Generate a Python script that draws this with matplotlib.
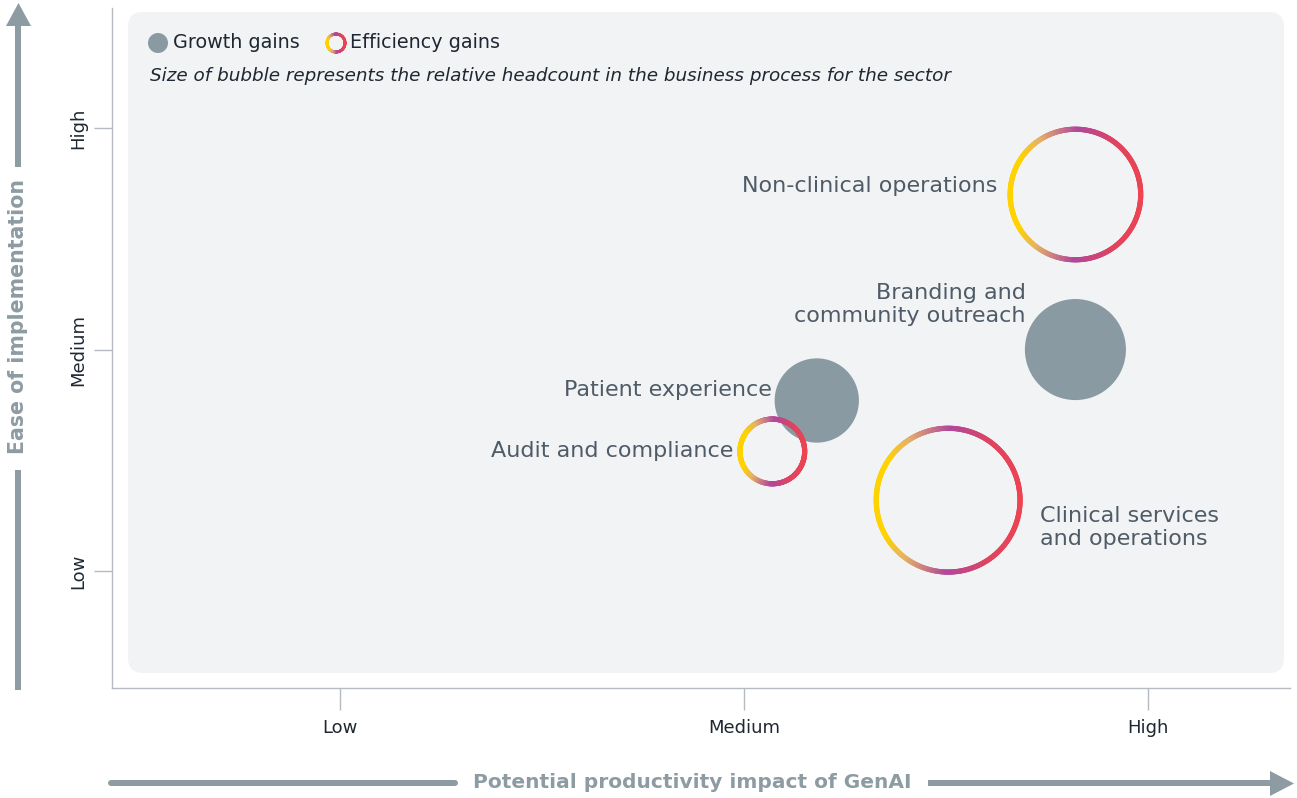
import numpy as np
import matplotlib
matplotlib.use("Agg")
import matplotlib.pyplot as plt
from matplotlib.collections import LineCollection
from matplotlib.colors import LinearSegmentedColormap
from matplotlib.patches import FancyBboxPatch, Polygon, Circle

# ---------------- data ----------------
processes = ["Non-clinical operations", "Branding and\ncommunity outreach",
             "Patient experience", "Audit and compliance",
             "Clinical services\nand operations"]
impact = [2.82, 2.82, 2.18, 2.07, 2.505]          # x: potential productivity impact
ease = [2.70, 2.00, 1.77, 1.54, 1.32]             # y: ease of implementation
headcount = [83, 46, 32, 22, 100]                 # relative headcount (bubble area)
gain_type = ["Efficiency", "Growth", "Growth", "Efficiency", "Efficiency"]
tick_values = [1, 2, 3]
tick_labels = ["Low", "Medium", "High"]

# ---------------- styles ----------------
W, H = 1297, 798
FONT = "DejaVu Sans"
plt.rcParams['font.family'] = [FONT]
GRAY_BUBBLE = "#8a9aa2"
ARROW = "#8d9ba3"
LABEL = "#4f5b66"
DARK = "#1e2732"
SPINE = "#b5bbc0"
BG = "#f2f3f5"
RADIUS_SCALE = 7.45    # px per sqrt(headcount)
RING_W = 5.2           # px
# label offsets in px (side, dy, ha, gap) relative to bubble centre
label_pos = [(-1, 9, "right", 10), (-1, 45, "right", -1), (-1, 10, "right", 3),
             (-1, 0, "right", 4), (1, -27, "left", 17)]

ring_cmap = LinearSegmentedColormap.from_list(
    "ring", [(0.0, "#ef4350"), (0.30, "#e0445e"), (0.50, "#b2479b"),
             (0.70, "#e6b466"), (0.82, "#ffd200"), (1.0, "#ffd200")])

fig = plt.figure(figsize=(W / 100, H / 100), dpi=100)
fig.patch.set_facecolor("white")

# overlay for decorations in pixel coordinates
ov = fig.add_axes([0, 0, 1, 1], zorder=0)
ov.set_xlim(0, W)
ov.set_ylim(H, 0)
ov.axis("off")

ax = fig.add_axes([112 / W, (H - 688) / H, (1290 - 112) / W, (688 - 8) / H], zorder=1)
ax.patch.set_alpha(0)
ax.set_xlim(0.436, 3.351)
ax.set_ylim(0.472, 3.542)

# background panel
ov.add_patch(FancyBboxPatch((128 + 15, 12 + 15), 1284 - 128 - 30, 673 - 12 - 30,
                            boxstyle="round,pad=15", fc=BG, ec="none", zorder=0))

for s in ["top", "right"]:
    ax.spines[s].set_visible(False)
for s in ["left", "bottom"]:
    ax.spines[s].set_color(SPINE)
    ax.spines[s].set_linewidth(1.0)
ax.set_xticks(tick_values)
ax.set_xticklabels(tick_labels, fontsize=13, color=DARK)
ax.set_yticks(tick_values)
ax.set_yticklabels(tick_labels, fontsize=13, color=DARK, rotation=90, va="center")
ax.tick_params(axis="x", length=16, width=1, color=SPINE, pad=6)
ax.tick_params(axis="y", length=13, width=1, color=SPINE, pad=5)


def ring(axis, cx_px, cy_px, r_px, lw_px, to_data=None, n=360):
    th = np.linspace(0, 2 * np.pi, n + 1)
    xs = cx_px + r_px * np.cos(th)
    ys = cy_px + r_px * np.sin(th)
    pts = np.column_stack([xs, ys])
    if to_data is not None:
        pts = to_data(pts)
    segs = np.stack([pts[:-1], pts[1:]], axis=1)
    mid = (th[:-1] + th[1:]) / 2
    ang = np.abs(((mid + np.pi) % (2 * np.pi)) - np.pi) / np.pi  # 0 right, 1 left
    lc = LineCollection(segs, colors=ring_cmap(ang), linewidths=lw_px * 0.72,
                        capstyle="round", zorder=4)
    axis.add_collection(lc)


inv = ax.transData.inverted()
for i, name in enumerate(processes):
    r = RADIUS_SCALE * np.sqrt(headcount[i])
    cx, cy = ax.transData.transform((impact[i], ease[i]))
    if gain_type[i] == "Growth":
        ax.scatter([impact[i]], [ease[i]], s=(2 * r * 0.72) ** 2, color=GRAY_BUBBLE,
                   edgecolors="none", zorder=3)
    else:
        ring(ax, cx, cy, r - RING_W / 2, RING_W, to_data=inv.transform)
    sx, dy, ha, gap = label_pos[i]
    dx = sx * (r + gap)
    ax.annotate(name, (impact[i], ease[i]), xytext=(dx * 0.72, dy * 0.72),
                textcoords="offset points", ha=ha, va="center", fontsize=16,
                color=LABEL, linespacing=1.2, zorder=5)

# legend
ov.add_patch(Circle((158, 43), 10, fc=GRAY_BUBBLE, ec="none", zorder=2))
ov.text(173, 43, "Growth gains", fontsize=13.8, color=DARK, va="center", ha="left", zorder=2)
ring(ov, 336, 43, 9, 2.8)
ov.text(350, 43, "Efficiency gains", fontsize=13.8, color=DARK, va="center", ha="left", zorder=2)
ov.text(150, 76, "Size of bubble represents the relative headcount in the business process for the sector",
        fontsize=13.2, style="italic", color=DARK, va="center", ha="left", zorder=2)

# axis arrows
ov.plot([18, 18], [690, 470], color=ARROW, lw=6 * 0.72, solid_capstyle="butt")
ov.plot([18, 18], [167, 24], color=ARROW, lw=6 * 0.72, solid_capstyle="butt")
ov.add_patch(Polygon([[6, 26], [31, 26], [18.5, 3]], closed=True, fc=ARROW, ec="none"))
ov.text(18, 316, "Ease of implementation", rotation=90, fontsize=14.8, fontweight="bold",
        color=ARROW, ha="center", va="center")

ov.plot([111, 455], [783, 783], color=ARROW, lw=6 * 0.72, solid_capstyle="round")
ov.plot([928, 1272], [783, 783], color=ARROW, lw=6 * 0.72, solid_capstyle="butt")
ov.add_patch(Polygon([[1270, 771], [1270, 796], [1294, 783.5]], closed=True, fc=ARROW, ec="none"))
ov.text(692, 783, "Potential productivity impact of GenAI", fontsize=14.5, fontweight="bold",
        color=ARROW, ha="center", va="center")

fig.savefig("out.png", dpi=100, facecolor="white")
